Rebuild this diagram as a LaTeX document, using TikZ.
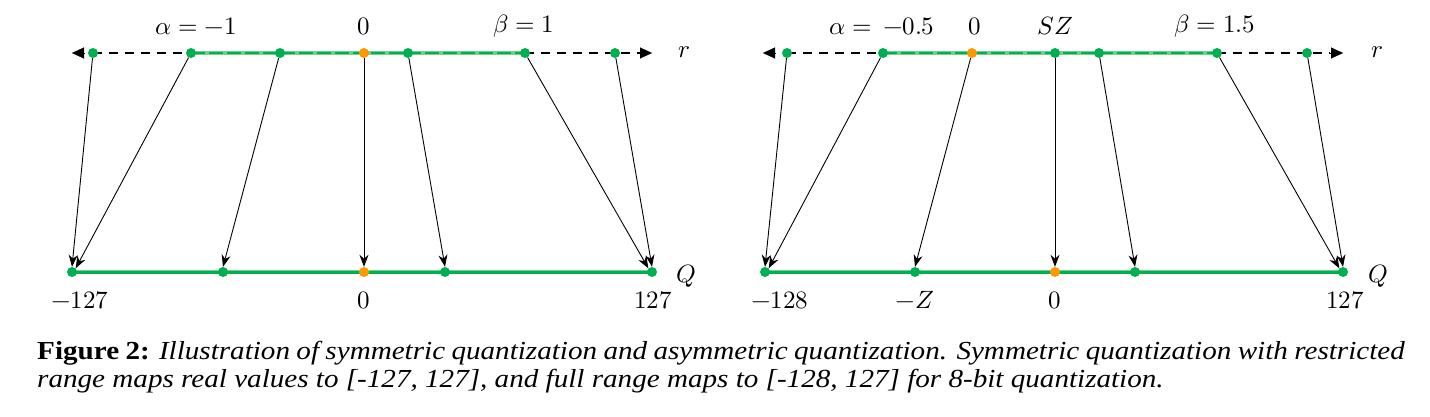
\documentclass[tikz,border=0pt]{standalone}
\usepackage{fontspec}
\setmainfont{Liberation Serif}
\usepackage{unicode-math}
\setmathfont{Latin Modern Math}
\usetikzlibrary{arrows.meta}
\definecolor{qgreen}{RGB}{0,176,80}
\definecolor{qlight}{RGB}{110,210,140}
\definecolor{qorange}{RGB}{255,153,0}
\tikzset{
  gdot/.style={circle,fill=qgreen,inner sep=0pt,minimum size=10pt},
  odot/.style={circle,fill=qorange,inner sep=0pt,minimum size=10pt},
  mapar/.style={-{Stealth[length=12pt,width=9pt]},line width=0.9pt},
  axisdash/.style={line width=2.6pt,dash pattern=on 9pt off 7pt},
  lbl/.style={font=\fontsize{25}{29}\selectfont,inner sep=0pt}
}
\begin{document}
\begin{tikzpicture}[x=1pt,y=-1pt]
\useasboundingbox (0,0) rectangle (1430,416);
% ================= LEFT =================
\coordinate (Lta) at (72,53);
\coordinate (Ltb) at (652,53);
\draw[axisdash] (93,53) -- (191,53);
\draw[axisdash] (525,53) -- (640,53);
\draw[line width=4pt,qlight] (191,53) -- (525,53);
\draw[line width=2.4pt,qgreen,dash pattern=on 14pt off 4pt] (191,53) -- (525,53);
\draw[line width=0.1pt,-{Triangle[length=12pt,width=11pt]}] (85,53) -- (Lta);
\draw[line width=0.1pt,-{Triangle[length=12pt,width=11pt]}] (638,53) -- (Ltb);
\draw[line width=3pt,qgreen] (72,272) -- (652,272);
\draw[line width=1pt,qlight] (72,270.2) -- (652,270.2);
\node[gdot] (L1) at (93,53) {};
\node[gdot] (L2) at (191,53) {};
\node[gdot] (L3) at (280,53) {};
\node[odot] (L4) at (364,53) {};
\node[gdot] (L5) at (408,53) {};
\node[gdot] (L6) at (525,53) {};
\node[gdot] (L7) at (615,53) {};
\node[gdot] (LB1) at (72,272) {};
\node[gdot] (LB2) at (223,272) {};
\node[odot] (LB3) at (364,272) {};
\node[gdot] (LB4) at (445,272) {};
\node[gdot] (LB5) at (652,272) {};
\draw[mapar] (L1) -- (LB1.north);
\draw[mapar] (L2) -- (LB1.north east);
\draw[mapar] (L3) -- (LB2.north);
\draw[mapar] (L4) -- (LB3.north);
\draw[mapar] (L5) -- (LB4.north);
\draw[mapar] (L6) -- (LB5.north west);
\draw[mapar] (L7) -- (LB5.north);
\node[lbl] (La) at (196,26) {$\alpha=-1$};
\node[lbl] (L0) at (364,26) {$0$};
\node[lbl] (Lb) at (524,26) {$\beta=1$};
\node[lbl] (Lr) at (684,52) {$r$};
\node[lbl] (Lm) at (80,300) {$-127$};
\node[lbl] (Lz) at (364,300) {$0$};
\node[lbl] (Lp) at (653,300) {$127$};
\node[lbl] (LQ) at (686,276) {$Q$};
% ================= RIGHT =================
\coordinate (Rta) at (763,53);
\coordinate (Rtb) at (1343,53);
\draw[axisdash] (787,53) -- (883,53);
\draw[axisdash] (1217,53) -- (1330,53);
\draw[line width=4pt,qlight] (883,53) -- (1217,53);
\draw[line width=2.4pt,qgreen,dash pattern=on 14pt off 4pt] (883,53) -- (1217,53);
\draw[line width=0.1pt,-{Triangle[length=12pt,width=11pt]}] (776,53) -- (Rta);
\draw[line width=0.1pt,-{Triangle[length=12pt,width=11pt]}] (1329,53) -- (Rtb);
\draw[line width=3pt,qgreen] (765,272) -- (1343,272);
\draw[line width=1pt,qlight] (765,270.2) -- (1343,270.2);
\node[gdot] (R1) at (787,53) {};
\node[gdot] (R2) at (883,53) {};
\node[odot] (R3) at (972,53) {};
\node[gdot] (R4) at (1055,53) {};
\node[gdot] (R5) at (1099,53) {};
\node[gdot] (R6) at (1217,53) {};
\node[gdot] (R7) at (1307,53) {};
\node[gdot] (RB1) at (765,272) {};
\node[gdot] (RB2) at (915,272) {};
\node[odot] (RB3) at (1055,272) {};
\node[gdot] (RB4) at (1135,272) {};
\node[gdot] (RB5) at (1343,272) {};
\draw[mapar] (R1) -- (RB1.north);
\draw[mapar] (R2) -- (RB1.north east);
\draw[mapar] (R3) -- (RB2.north);
\draw[mapar] (R4) -- (RB3.north);
\draw[mapar] (R5) -- (RB4.north);
\draw[mapar] (R6) -- (RB5.north west);
\draw[mapar] (R7) -- (RB5.north);
\node[lbl] (Ra) at (882,26) {$\alpha=\,-0.5$};
\node[lbl] (R0) at (975,26) {$0$};
\node[lbl] (Rs) at (1055,26) {$SZ$};
\node[lbl] (Rb) at (1215,26) {$\beta=1.5$};
\node[lbl] (Rr) at (1377,52) {$r$};
\node[lbl] (Rm) at (780,300) {$-128$};
\node[lbl] (Rzz) at (915,300) {$-Z$};
\node[lbl] (Rz) at (1055,300) {$0$};
\node[lbl] (Rp) at (1345,300) {$127$};
\node[lbl] (RQ) at (1378,276) {$Q$};
% ================= CAPTION =================
\node[anchor=north west,inner sep=0pt,xscale=1.12,transform shape,
      text width=1221pt,align=justify,
      font=\fontsize{26}{28}\selectfont] (cap) at (37,341)
{\textbf{Figure 2:} \textit{Illustration of symmetric quantization and asymmetric quantization. Symmetric quantization with restricted\linebreak range maps real values to [-127, 127], and full range maps to [-128, 127] for 8-bit quantization.}};
\end{tikzpicture}
\end{document}
